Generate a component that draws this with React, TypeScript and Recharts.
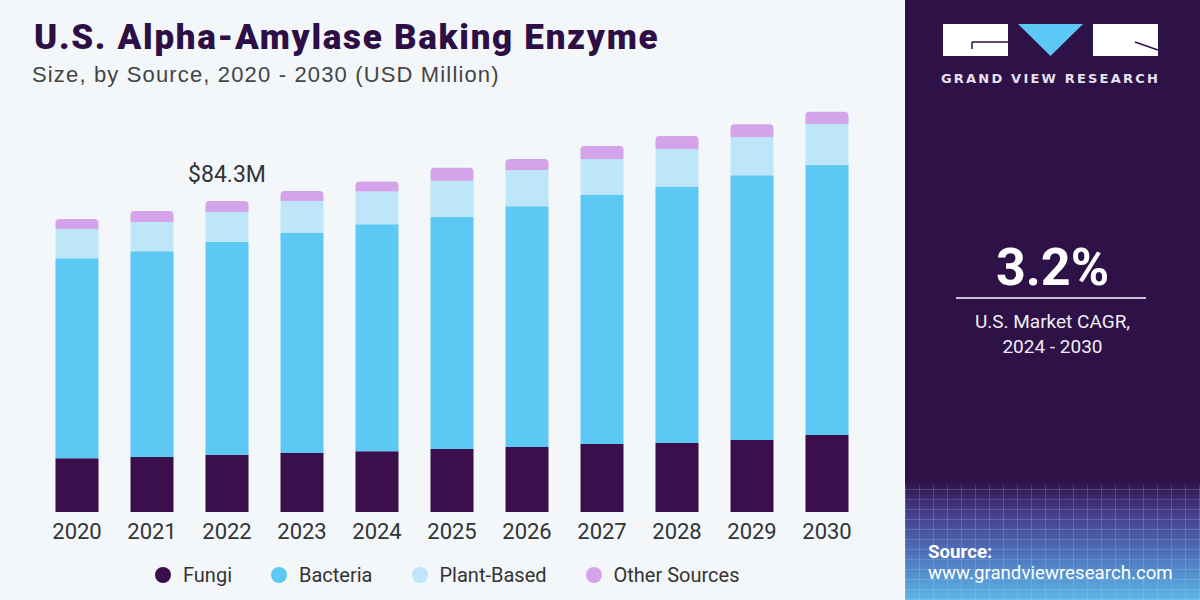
import { Bar, BarChart, LabelList, Legend, XAxis, YAxis } from "recharts";

const years = ["2020", "2021", "2022", "2023", "2024", "2025", "2026", "2027", "2028", "2029", "2030"];
const fungi = [14.6, 14.9, 15.5, 16.0, 16.5, 17.1, 17.6, 18.4, 18.7, 19.5, 20.9];
const bacteria = [54.2, 55.8, 57.7, 59.6, 61.5, 62.9, 65.3, 67.5, 69.4, 71.8, 73.2];
const plantBased = [7.9, 7.9, 8.1, 8.7, 8.9, 9.8, 9.8, 9.8, 10.3, 10.3, 11.1];
const otherSources = [2.7, 3.0, 3.0, 2.7, 2.7, 3.5, 3.0, 3.5, 3.5, 3.5, 3.3];
const highlightYear = "2022";
const highlightLabel = "$84.3M";

const series = [
  { key: "fungi", name: "Fungi", color: "#3a0f4b" },
  { key: "bacteria", name: "Bacteria", color: "#5cc9f4" },
  { key: "plant", name: "Plant-Based", color: "#bde7f8" },
  { key: "other", name: "Other Sources", color: "#d4a3ea" },
];

const data = years.map((year, i) => ({
  year,
  fungi: fungi[i],
  bacteria: bacteria[i],
  plant: plantBased[i],
  other: otherSources[i],
}));

const FONT = "Roboto, 'Liberation Sans', Arial, sans-serif";

function YearTick({ x, y, payload }: { x?: number; y?: number; payload?: { value: string } }) {
  return (
    <text x={x} y={(y ?? 0) + 27} textAnchor="middle" fill="#333" fontSize={22} fontFamily={FONT}>
      {payload?.value}
    </text>
  );
}

function LegendRow() {
  return (
    <div style={{ display: "flex", alignItems: "center", paddingLeft: 155, fontFamily: FONT, fontSize: 20, color: "#333" }}>
      {series.map((s) => (
        <div key={s.key} style={{ display: "flex", alignItems: "center", marginRight: 39 }}>
          <span style={{ width: 16, height: 16, borderRadius: 8, background: s.color, display: "inline-block", marginRight: 12 }} />
          <span>{s.name}</span>
        </div>
      ))}
    </div>
  );
}

function TotalLabel(props: { x?: number; y?: number; width?: number; index?: number }) {
  const { x = 0, y = 0, width = 0, index = -1 } = props;
  if (years[index] !== highlightYear) return null;
  return (
    <text x={x + width / 2} y={y - 19} textAnchor="middle" fill="#333" fontSize={23} fontFamily={FONT}>
      {highlightLabel}
    </text>
  );
}

function SidePanel() {
  return (
    <div
      style={{
        position: "absolute",
        left: 905,
        top: 0,
        width: 295,
        height: 600,
        background: "linear-gradient(180deg, #2e1147 0%, #2e1147 80%, #47418e 86%, #4f78bf 93%, #5db6e6 100%)",
        fontFamily: FONT,
        color: "#fff",
        overflow: "hidden",
      }}
    >
      <div
        style={{
          position: "absolute",
          left: 0,
          top: 485,
          width: 295,
          height: 115,
          backgroundImage:
            "repeating-linear-gradient(90deg, rgba(190,215,255,0.2) 0 1px, transparent 1px 14px), repeating-linear-gradient(0deg, rgba(190,215,255,0.2) 0 1px, transparent 1px 10px)",
        }}
      />
      <svg width={295} height={100} style={{ position: "absolute", left: 0, top: 0 }}>
        <rect x={38} y={24} width={65} height={32} fill="#fff" />
        <path d="M67 42 H103 M67 42 V49" stroke="#2e1147" strokeWidth={1.5} fill="none" />
        <polygon points="113,24 178,24 145.5,56" fill="#5bc8f5" />
        <rect x={188} y={24} width={65} height={32} fill="#fff" />
        <path d="M230 42 L253 50" stroke="#2e1147" strokeWidth={1.5} fill="none" />
        <text x={145.5} y={83} textAnchor="middle" fill="#e6e2ee" fontSize={13} fontWeight={700} letterSpacing={2.2} fontFamily="'DejaVu Sans', sans-serif">
          GRAND VIEW RESEARCH
        </text>
      </svg>
      <div style={{ position: "absolute", left: 0, width: 295, top: 237, textAlign: "center", fontSize: 52, fontWeight: 700 }}>3.2%</div>
      <div style={{ position: "absolute", left: 51, width: 190, top: 297, height: 2, background: "#c9bfd9" }} />
      <div style={{ position: "absolute", left: 0, width: 295, top: 309, textAlign: "center", fontSize: 19, lineHeight: "25px", color: "#f0eef4" }}>
        U.S. Market CAGR,
        <br />
        2024 - 2030
      </div>
      <div style={{ position: "absolute", left: 23, top: 541, fontSize: 18.7, fontWeight: 700 }}>Source:</div>
      <div style={{ position: "absolute", left: 23, top: 562, fontSize: 18.7 }}>www.grandviewresearch.com</div>
    </div>
  );
}

export default function App() {
  return (
    <div style={{ position: "absolute", left: 0, top: 0, width: 1200, height: 600, background: "#f4f7fa", overflow: "hidden" }}>
      <div style={{ position: "absolute", left: 34, top: 17, fontFamily: FONT, fontWeight: 900, fontSize: 35, color: "#2d0f45", letterSpacing: 1.7, whiteSpace: "nowrap" }}>
        U.S. Alpha-Amylase Baking Enzyme
      </div>
      <div style={{ position: "absolute", left: 32, top: 62, fontFamily: "'Liberation Sans', Arial, sans-serif", fontSize: 22, color: "#444", letterSpacing: 1.15, whiteSpace: "nowrap" }}>
        Size, by Source, 2020 - 2030 (USD Million)
      </div>
      <div style={{ position: "absolute", left: 0, top: 0 }}>
        <BarChart width={905} height={600} data={data} margin={{ top: 106.2, right: 40.5, bottom: 58, left: 39.5 }} barSize={43}>
          <XAxis dataKey="year" axisLine={false} tickLine={false} tickSize={0} tickMargin={0} height={30} tick={<YearTick />} interval={0} />
          <YAxis hide domain={[0, 110]} width={0} />
          {series.map((s, i) => (
            <Bar
              key={s.key}
              dataKey={s.key}
              name={s.name}
              stackId="a"
              fill={s.color}
              isAnimationActive={false}
              radius={i === series.length - 1 ? [4, 4, 0, 0] : 0}
            >
              {i === series.length - 1 ? <LabelList dataKey={s.key} content={<TotalLabel />} /> : null}
            </Bar>
          ))}
          <Legend verticalAlign="middle" layout="horizontal" content={<LegendRow />} wrapperStyle={{ top: 563, left: 0, width: 905 }} />
        </BarChart>
      </div>
      <SidePanel />
    </div>
  );
}
